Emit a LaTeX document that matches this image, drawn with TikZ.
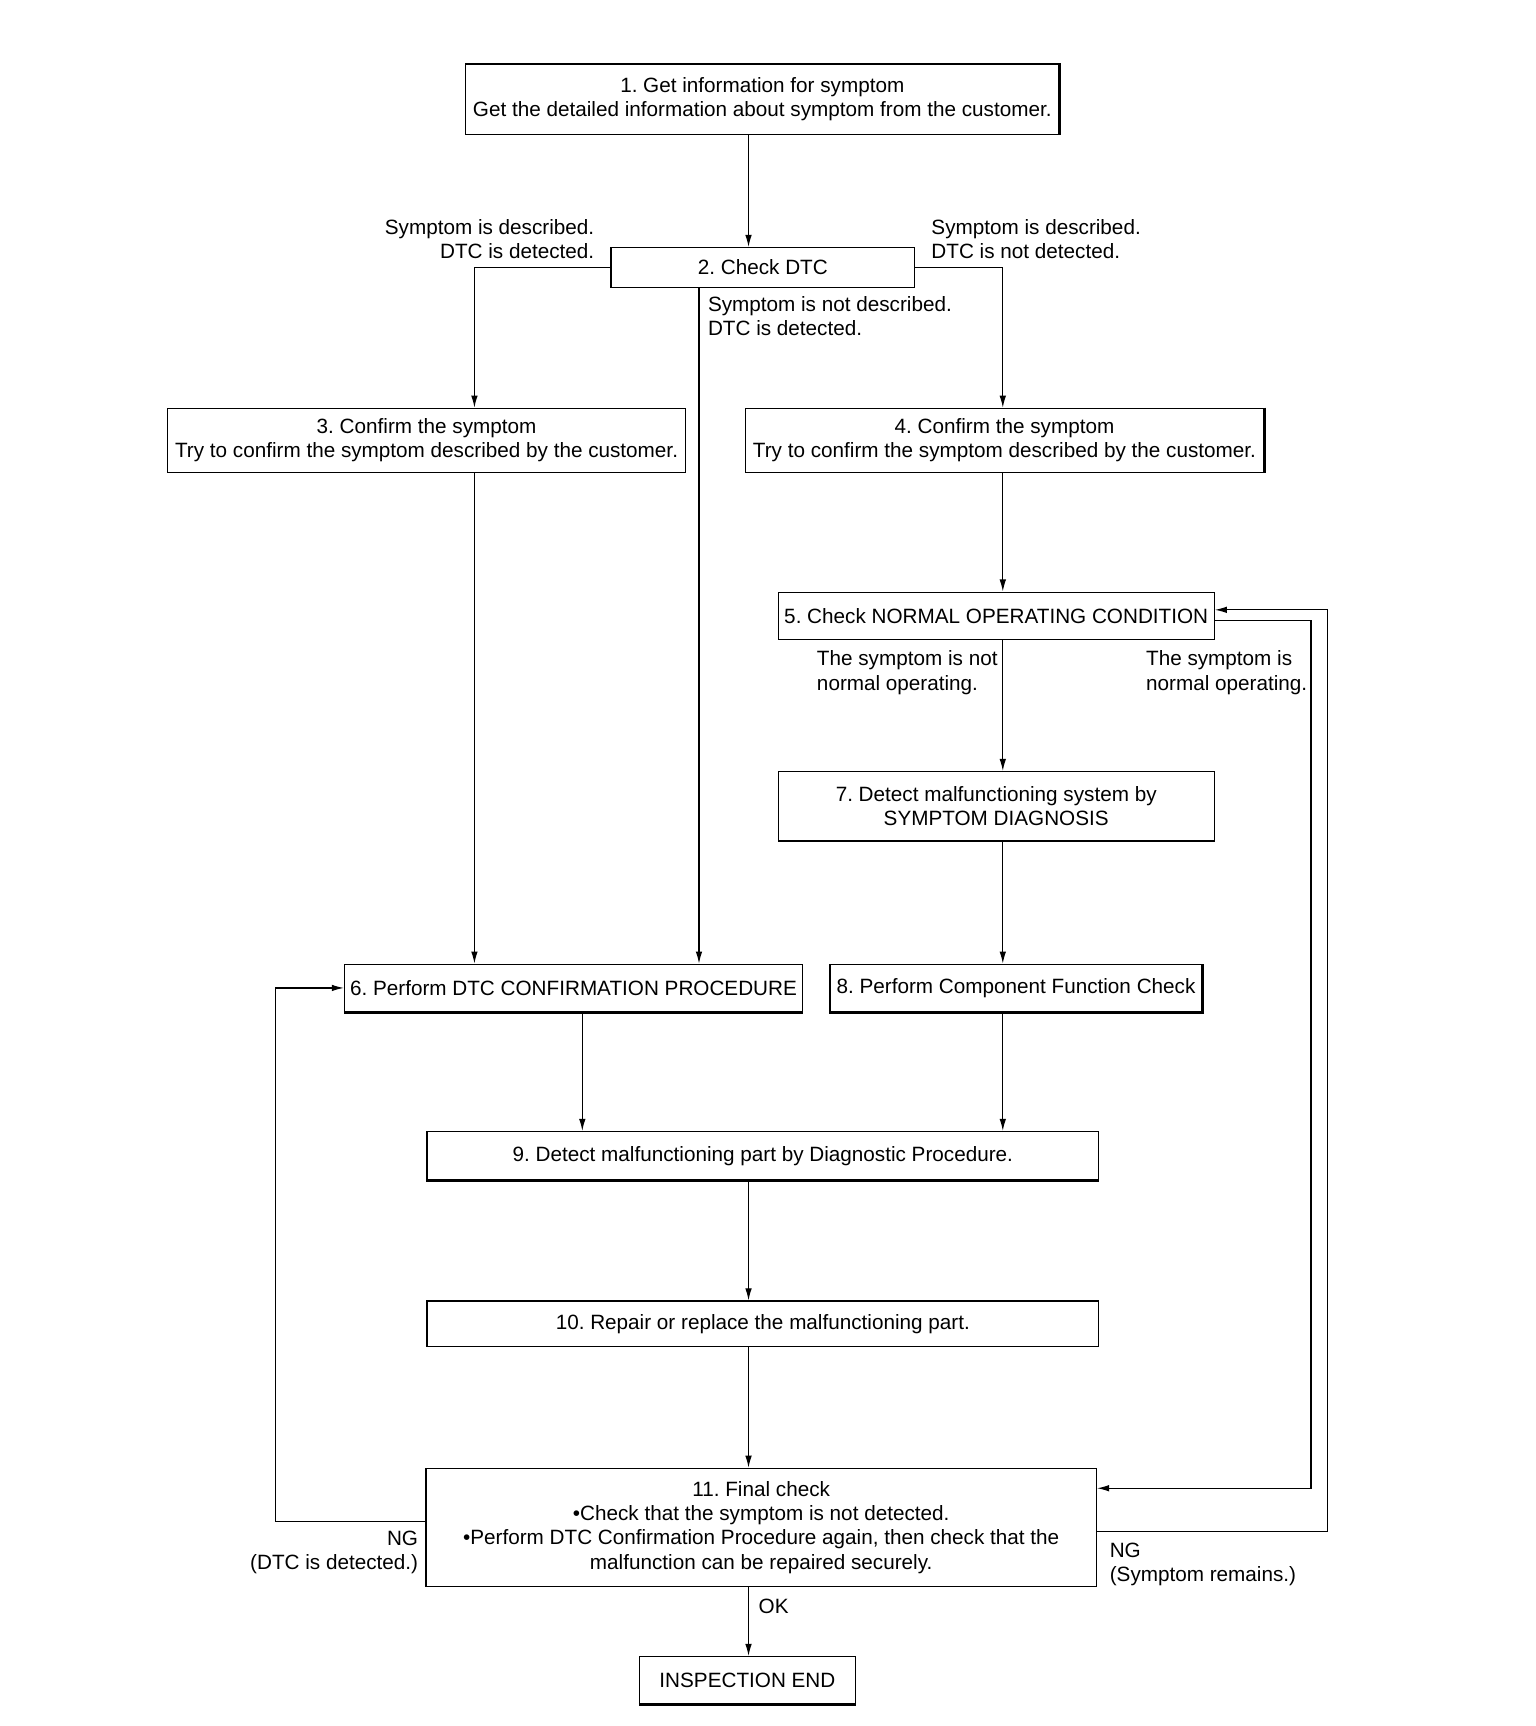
\documentclass[tikz,border=0pt]{standalone}
\usepackage{fontspec}
\setmainfont{Liberation Sans}
\usetikzlibrary{arrows.meta}
\begin{document}
\frenchspacing
\begin{tikzpicture}[x=1pt,y=-1pt,
  font=\fontsize{18.8}{22}\selectfont,
  box/.style={draw,line width=1.2pt,align=center,inner sep=0pt},
  lbl/.style={inner sep=0pt},
  conn/.style={line width=1.1pt},
  arr/.style={conn,-{Latex[length=11pt,width=6pt]}},
  heavy/.style={line width=2.4pt}]
\path[use as bounding box] (0,0) rectangle (1395,1568);
% boxes
\node[box,minimum width=539,minimum height=64] (b1) at (692.5,90) {1. Get information for symptom\\Get the detailed information about symptom from the customer.};
\node[box,minimum width=276,minimum height=36] (b2) at (693,243) {2. Check DTC};
\node[box,minimum width=471,minimum height=58] (b3) at (387.5,400) {3. Confirm the symptom\\Try to confirm the symptom described by the customer.};
\node[box,minimum width=471,minimum height=58] (b4) at (912.5,400) {4. Confirm the symptom\\Try to confirm the symptom described by the customer.};
\node[box,minimum width=396,minimum height=43] (b5) at (905,559.5) {5. Check NORMAL OPERATING CONDITION};
\node[box,minimum width=396,minimum height=63] (b7) at (905,732.5) {7. Detect malfunctioning system by\\SYMPTOM DIAGNOSIS};
\node[box,minimum width=416,minimum height=43] (b6) at (521,897.5) {6. Perform DTC CONFIRMATION PROCEDURE};
\node[box,minimum width=338,minimum height=43] (b8) at (923,897.5) {8. Perform Component Function Check};
\node[box,minimum width=610,minimum height=44] (b9) at (693,1050) {9. Detect malfunctioning part by Diagnostic Procedure.};
\node[box,minimum width=610,minimum height=41] (b10) at (693,1202.5) {10. Repair or replace the malfunctioning part.};
\node[box,minimum width=609,minimum height=107] (b11) at (691.5,1387.5) {11. Final check\\{\textbullet}Check that the symptom is not detected.\\{\textbullet}Perform DTC Confirmation Procedure again, then check that the\\malfunction can be repaired securely.};
\node[box,minimum width=196,minimum height=43] (end) at (679,1526.5) {INSPECTION END};
% heavier edges (as in the reference print)
\draw[heavy] (b1.north east) -- (b1.south east);
\draw[heavy] (b4.north east) -- (b4.south east);
\draw[heavy] (b6.south west) -- (b6.south east);
\draw[heavy] (b8.south west) -- (b8.south east) -- (b8.north east);
\draw[heavy] (b9.south west) -- (b9.south east);
\draw[heavy] (end.south west) -- (end.south east);
% column coordinates
\coordinate (xA) at (680,0);
\coordinate (xL) at (431,0);
\coordinate (xM) at (635,0);
\coordinate (xR) at (911,0);
\coordinate (x6) at (529,0);
\coordinate (lw) at (250,1382);
\coordinate (r1) at (1191,564);
\coordinate (r2) at (1206,1391);
% connectors
\draw[arr] (b1.south -| xA) -- (b2.north -| xA);
\draw[arr] (b2.west) -| (b3.north -| xL);
\draw[arr] (b2.east) -| (b4.north -| xR);
\draw[arr] (b2.south -| xM) -- (b6.north -| xM);
\draw[arr] (b3.south -| xL) -- (b6.north -| xL);
\draw[arr] (b4.south -| xR) -- (b5.north -| xR);
\draw[arr] (b5.south -| xR) -- (b7.north -| xR);
\draw[arr] (b7.south -| xR) -- (b8.north -| xR);
\draw[arr] (b6.south -| x6) -- (b9.north -| x6);
\draw[arr] (b8.south -| xR) -- (b9.north -| xR);
\draw[arr] (b9.south -| xA) -- (b10.north -| xA);
\draw[arr] (b10.south -| xA) -- (b11.north -| xA);
\draw[arr] (b11.south -| xA) -- (end.north -| xA);
\draw[arr] (b11.west |- lw) -- (lw) |- (b6.west);
\draw[arr] (b5.east |- r1) -- (r1) |- (b11.east |- 0,1352);
\draw[arr] (b11.east |- r2) -- (r2) |- (b5.east |- 0,554);
% labels
\node[lbl,anchor=east,align=right] (l1) at (540,217) {Symptom is described.\\DTC is detected.};
\node[lbl,anchor=west,align=left] (l2) at (846,217) {Symptom is described.\\DTC is not detected.};
\node[lbl,anchor=west,align=left] (l3) at (643,287) {Symptom is not described.\\DTC is detected.};
\node[lbl,anchor=west,align=left] (l4) at (742,611) {The symptom is not\\normal operating.};
\node[lbl,anchor=west,align=left] (l5) at (1041,611) {The symptom is\\normal operating.};
\node[lbl,anchor=east,align=right] (l6) at (380,1410) {NG\\(DTC is detected.)};
\node[lbl,anchor=west,align=left] (l7) at (1008,1421) {NG\\(Symptom remains.)};
\node[lbl,anchor=west] (l8) at (689,1459) {OK};
\end{tikzpicture}
\end{document}
